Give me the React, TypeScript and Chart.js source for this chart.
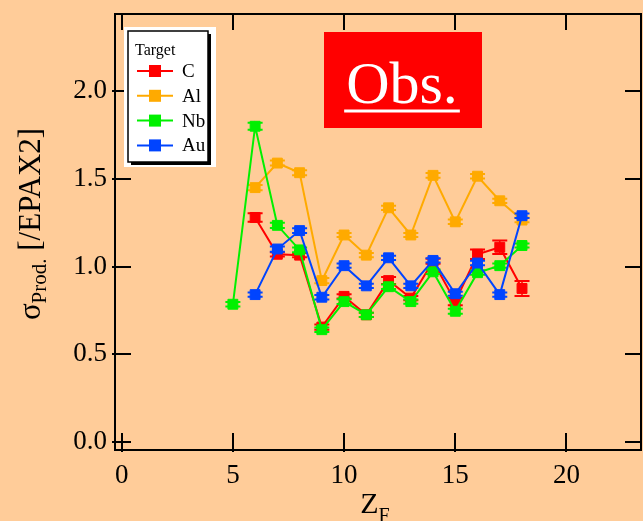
import { useEffect, useRef } from 'react';
import { Chart, registerables } from 'chart.js';

Chart.register(...registerables);

// Fragment charge Z_F for each target series
const zC = [6, 7, 8, 9, 10, 11, 12, 13, 14, 15, 16, 17, 18];
const zAl = [6, 7, 8, 9, 10, 11, 12, 13, 14, 15, 16, 17, 18];
const zNb = [5, 6, 7, 8, 9, 10, 11, 12, 13, 14, 15, 16, 17, 18];
const zAu = [6, 7, 8, 9, 10, 11, 12, 13, 14, 15, 16, 17, 18];

// Production cross sections normalised to EPAX2
const sigmaC = [1.28, 1.07, 1.065, 0.655, 0.83, 0.725, 0.92, 0.82, 1.03, 0.8, 1.07, 1.11, 0.875];
const sigmaAl = [1.45, 1.59, 1.535, 0.92, 1.18, 1.065, 1.335, 1.18, 1.52, 1.255, 1.515, 1.375, 1.265];
const sigmaNb = [0.785, 1.8, 1.235, 1.095, 0.64, 0.8, 0.725, 0.885, 0.8, 0.97, 0.745, 0.965, 1.005, 1.12];
const sigmaAu = [0.84, 1.1, 1.205, 0.825, 1.005, 0.89, 1.05, 0.89, 1.035, 0.845, 1.02, 0.84, 1.29];

// Statistical errors
const errC = [0.024, 0.012, 0.012, 0.015, 0.012, 0.012, 0.02, 0.012, 0.014, 0.02, 0.027, 0.038, 0.043];
const errAl = [0.015, 0.014, 0.014, 0.015, 0.012, 0.012, 0.012, 0.012, 0.014, 0.013, 0.013, 0.012, 0.013];
const errNb = [0.013, 0.02, 0.015, 0.013, 0.013, 0.013, 0.012, 0.013, 0.012, 0.013, 0.014, 0.012, 0.012, 0.012];
const errAu = [0.012, 0.015, 0.013, 0.013, 0.012, 0.012, 0.012, 0.012, 0.012, 0.012, 0.013, 0.012, 0.013];

const targets = ['C', 'Al', 'Nb', 'Au'];
const colors = ['#FF0000', '#FFAA00', '#00F000', '#0044FF'];

const xTickValues = [0, 5, 10, 15, 20];
const yTickValues = [0, 0.5, 1.0, 1.5, 2.0];

const SERIF = "'Liberation Serif', 'Times New Roman', serif";
const BG = '#FFCC99';

const seriesX = [zC, zAl, zNb, zAu];
const seriesY = [sigmaC, sigmaAl, sigmaNb, sigmaAu];
const seriesErr = [errC, errAl, errNb, errAu];
// Au on top, then Nb, Al, C underneath
const drawOrder = [3, 2, 1, 0];

const backgroundPlugin = {
  id: 'pageBackground',
  beforeDraw(chart: any) {
    const { ctx, width, height } = chart;
    ctx.save();
    ctx.fillStyle = BG;
    ctx.fillRect(0, 0, width, height);
    ctx.restore();
  },
};

const errorBarPlugin = {
  id: 'errorBars',
  afterDatasetDraw(chart: any, args: any) {
    const { ctx, chartArea } = chart;
    const i = args.index;
    const meta = args.meta;
    const yScale = chart.scales.y;
    const errs = seriesErr[i];
    ctx.save();
    ctx.beginPath();
    ctx.rect(chartArea.left, chartArea.top, chartArea.right - chartArea.left, chartArea.bottom - chartArea.top);
    ctx.clip();
    ctx.strokeStyle = colors[i];
    meta.data.forEach((pt: any, k: number) => {
      const v = seriesY[i][k];
      const yTop = yScale.getPixelForValue(v + errs[k]);
      const yBot = yScale.getPixelForValue(v - errs[k]);
      const x = pt.x;
      ctx.lineWidth = 1.5;
      ctx.beginPath();
      ctx.moveTo(x, yTop);
      ctx.lineTo(x, yBot);
      ctx.stroke();
      ctx.lineWidth = 2;
      ctx.beginPath();
      ctx.moveTo(x - 7.5, yTop);
      ctx.lineTo(x + 7.5, yTop);
      ctx.moveTo(x - 7.5, yBot);
      ctx.lineTo(x + 7.5, yBot);
      ctx.stroke();
    });
    ctx.restore();
  },
};

const framePlugin = {
  id: 'frameAndTicks',
  afterDraw(chart: any) {
    const { ctx, chartArea } = chart;
    const { left, right, top, bottom } = chartArea;
    const xs = chart.scales.x;
    const ys = chart.scales.y;
    ctx.save();
    ctx.strokeStyle = '#000';
    ctx.lineWidth = 2;
    ctx.strokeRect(left, top, right - left, bottom - top);
    ctx.beginPath();
    yTickValues.forEach((v) => {
      const py = Math.round(ys.getPixelForValue(v));
      ctx.moveTo(left - 3, py);
      ctx.lineTo(left + 16, py);
      ctx.moveTo(right - 16, py);
      ctx.lineTo(right, py);
    });
    xTickValues.forEach((v) => {
      const px = Math.round(xs.getPixelForValue(v));
      ctx.moveTo(px, bottom + 2);
      ctx.lineTo(px, bottom - 17);
      ctx.moveTo(px, top);
      ctx.lineTo(px, top + 16);
    });
    ctx.stroke();

    // axis titles
    ctx.fillStyle = '#000';
    ctx.textBaseline = 'alphabetic';
    // x title: Z_F
    const xMid = (left + right) / 2 - 3;
    ctx.font = `30px ${SERIF}`;
    const wZ = ctx.measureText('Z').width;
    ctx.font = `20px ${SERIF}`;
    const wF = ctx.measureText('F').width;
    const xStart = xMid - (wZ + wF) / 2;
    ctx.font = `30px ${SERIF}`;
    ctx.textAlign = 'left';
    ctx.fillText('Z', xStart, 513);
    ctx.font = `20px ${SERIF}`;
    ctx.fillText('F', xStart + wZ, 522);

    // y title: σ_Prod. [/EPAX2]
    ctx.save();
    ctx.translate(40, 224);
    ctx.rotate(-Math.PI / 2);
    ctx.font = `31px ${SERIF}`;
    const wSig = ctx.measureText('\u03C3').width;
    const wRest = ctx.measureText(' [/EPAX2]').width;
    ctx.font = `21px ${SERIF}`;
    const wSub = ctx.measureText('Prod.').width;
    const total = wSig + wSub + wRest;
    let cx = -total / 2;
    ctx.font = `31px ${SERIF}`;
    ctx.fillText('\u03C3', cx, 0);
    cx += wSig;
    ctx.font = `21px ${SERIF}`;
    ctx.fillText('Prod.', cx, 6);
    cx += wSub;
    ctx.font = `31px ${SERIF}`;
    ctx.fillText(' [/EPAX2]', cx, 0);
    ctx.restore();

    // legend box
    ctx.fillStyle = '#FFFFFF';
    ctx.fillRect(124, 27, 92, 140);
    ctx.fillStyle = '#000';
    ctx.fillRect(131, 34, 80, 131);
    ctx.fillStyle = '#FFFFFF';
    ctx.fillRect(128, 31, 80, 131);
    ctx.lineWidth = 1.5;
    ctx.strokeStyle = '#000';
    ctx.strokeRect(128, 31, 80, 131);
    ctx.fillStyle = '#000';
    ctx.font = `16px ${SERIF}`;
    ctx.textAlign = 'left';
    ctx.textBaseline = 'alphabetic';
    ctx.fillText('Target', 135, 55);
    targets.forEach((name, i) => {
      const ry = 71 + i * 24.8;
      ctx.strokeStyle = colors[i];
      ctx.lineWidth = 2;
      ctx.beginPath();
      ctx.moveTo(137, ry);
      ctx.lineTo(173, ry);
      ctx.stroke();
      ctx.fillStyle = colors[i];
      ctx.fillRect(149, ry - 6, 12, 12);
      ctx.fillStyle = '#000';
      ctx.font = `19px ${SERIF}`;
      ctx.textBaseline = 'middle';
      ctx.fillText(name, 182, ry + 1);
    });

    // "Obs." label
    ctx.fillStyle = '#FF0000';
    ctx.fillRect(324, 32, 158, 96);
    ctx.fillStyle = '#FFFFFF';
    ctx.font = `60px ${SERIF}`;
    ctx.textAlign = 'center';
    ctx.textBaseline = 'alphabetic';
    const obsW = ctx.measureText('Obs.').width;
    ctx.fillText('Obs.', 402, 103);
    ctx.fillRect(402 - obsW / 2 - 2, 109.5, obsW + 4, 3);
    ctx.restore();
  },
};

export default function App() {
  const canvasRef = useRef<HTMLCanvasElement | null>(null);

  useEffect(() => {
    if (!canvasRef.current) return;
    const datasets = targets.map((name, i) => ({
      label: name,
      data: seriesX[i].map((x, k) => ({ x, y: seriesY[i][k] })),
      borderColor: colors[i],
      backgroundColor: colors[i],
      pointBackgroundColor: colors[i],
      pointBorderColor: colors[i],
      pointStyle: 'rect' as const,
      pointRadius: 7,
      pointBorderWidth: 1,
      borderWidth: 2,
      showLine: true,
      tension: 0,
      order: drawOrder[i],
    }));

    const chart = new Chart(canvasRef.current, {
      type: 'scatter',
      data: { datasets },
      options: {
        animation: false,
        responsive: false,
        devicePixelRatio: 1,
        layout: { autoPadding: false, padding: { left: 0, top: 14, right: 2, bottom: 0 } },
        plugins: {
          legend: { display: false },
          tooltip: { enabled: false },
        },
        scales: {
          x: {
            type: 'linear',
            min: -0.3,
            max: 23.35,
            grid: { display: false, drawTicks: false },
            border: { display: false },
            afterBuildTicks: (scale: any) => {
              scale.ticks = xTickValues.map((v) => ({ value: v }));
            },
            afterFit: (scale: any) => {
              scale.height = 71;
              scale.paddingLeft = 0;
              scale.paddingRight = 0;
              scale.paddingTop = 0;
              scale.paddingBottom = 0;
            },
            ticks: {
              color: '#000',
              padding: 10,
              maxRotation: 0,
              font: { family: SERIF, size: 27 },
              callback: (v: any) => String(v),
            },
          },
          y: {
            type: 'linear',
            min: -0.046,
            max: 2.44,
            grid: { display: false, drawTicks: false },
            border: { display: false },
            afterBuildTicks: (scale: any) => {
              scale.ticks = yTickValues.map((v) => ({ value: v }));
            },
            afterFit: (scale: any) => {
              scale.width = 115;
              scale.paddingLeft = 0;
              scale.paddingRight = 0;
              scale.paddingTop = 0;
              scale.paddingBottom = 0;
            },
            ticks: {
              color: '#000',
              padding: 8,
              font: { family: SERIF, size: 27 },
              callback: (v: any) => Number(v).toFixed(1),
            },
          },
        },
      },
      plugins: [backgroundPlugin, errorBarPlugin, framePlugin],
    });
    return () => chart.destroy();
  }, []);

  return (
    <div style={{ position: 'absolute', left: 0, top: 0, width: 643, height: 521, background: BG, overflow: 'hidden' }}>
      <canvas ref={canvasRef} width={643} height={521} style={{ display: 'block' }} />
    </div>
  );
}
